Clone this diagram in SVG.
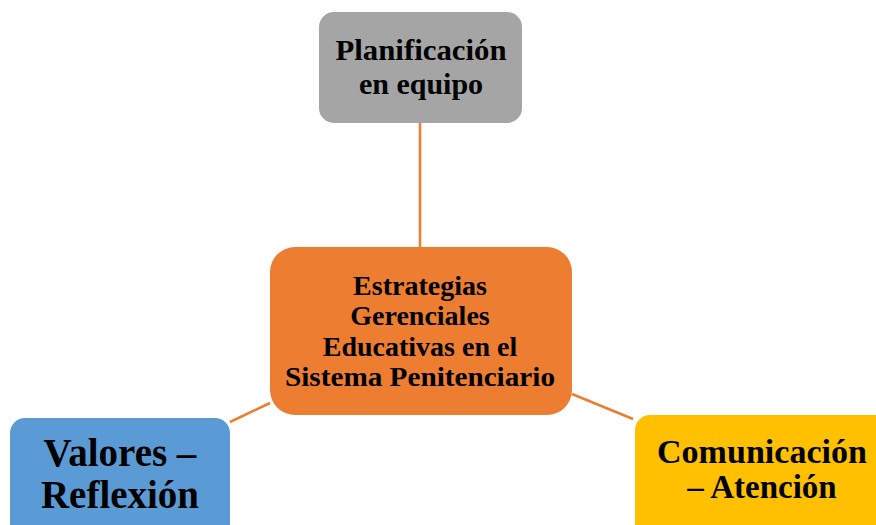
<svg xmlns="http://www.w3.org/2000/svg" width="876" height="525" viewBox="0 0 876 525">
<style>
.t{font-family:"Liberation Serif","Times New Roman",serif;font-weight:bold;fill:#000;text-anchor:middle}
.c{stroke:#ED7D31;stroke-width:2.5;fill:none}
</style>
<rect width="876" height="525" fill="#fff"/>
<g id="connectors">
<line class="c" x1="420" y1="123" x2="420" y2="247"/>
<line class="c" x1="230" y1="422" x2="270" y2="403"/>
<line class="c" x1="572" y1="394" x2="633" y2="419"/>
</g>
<g id="planificacion">
<rect x="319" y="12" width="203" height="111" rx="15" fill="#A5A5A5"/>
<text class="t" x="421" y="60" font-size="30" textLength="171" lengthAdjust="spacingAndGlyphs">Planificación</text>
<text class="t" x="421" y="94" font-size="30">en equipo</text>
</g>
<g id="estrategias">
<rect x="270" y="247" width="302" height="168" rx="25" fill="#ED7D31"/>
<text class="t" x="420" y="295" font-size="28">Estrategias</text>
<text class="t" x="420" y="325" font-size="28">Gerenciales</text>
<text class="t" x="420" y="356" font-size="28">Educativas en el</text>
<text class="t" x="420" y="386" font-size="28" textLength="270" lengthAdjust="spacingAndGlyphs">Sistema Penitenciario</text>
</g>
<g id="valores">
<rect x="10" y="418" width="220" height="130" rx="15" fill="#5B9BD5"/>
<text class="t" x="120" y="466" font-size="39">Valores –</text>
<text class="t" x="120" y="508" font-size="39">Reflexión</text>
</g>
<g id="comunicacion">
<rect x="635" y="415" width="280" height="130" rx="15" fill="#FFC000"/>
<text class="t" x="762" y="463" font-size="33" textLength="210" lengthAdjust="spacingAndGlyphs">Comunicación</text>
<text class="t" x="762" y="498" font-size="33">– Atención</text>
</g>
</svg>
